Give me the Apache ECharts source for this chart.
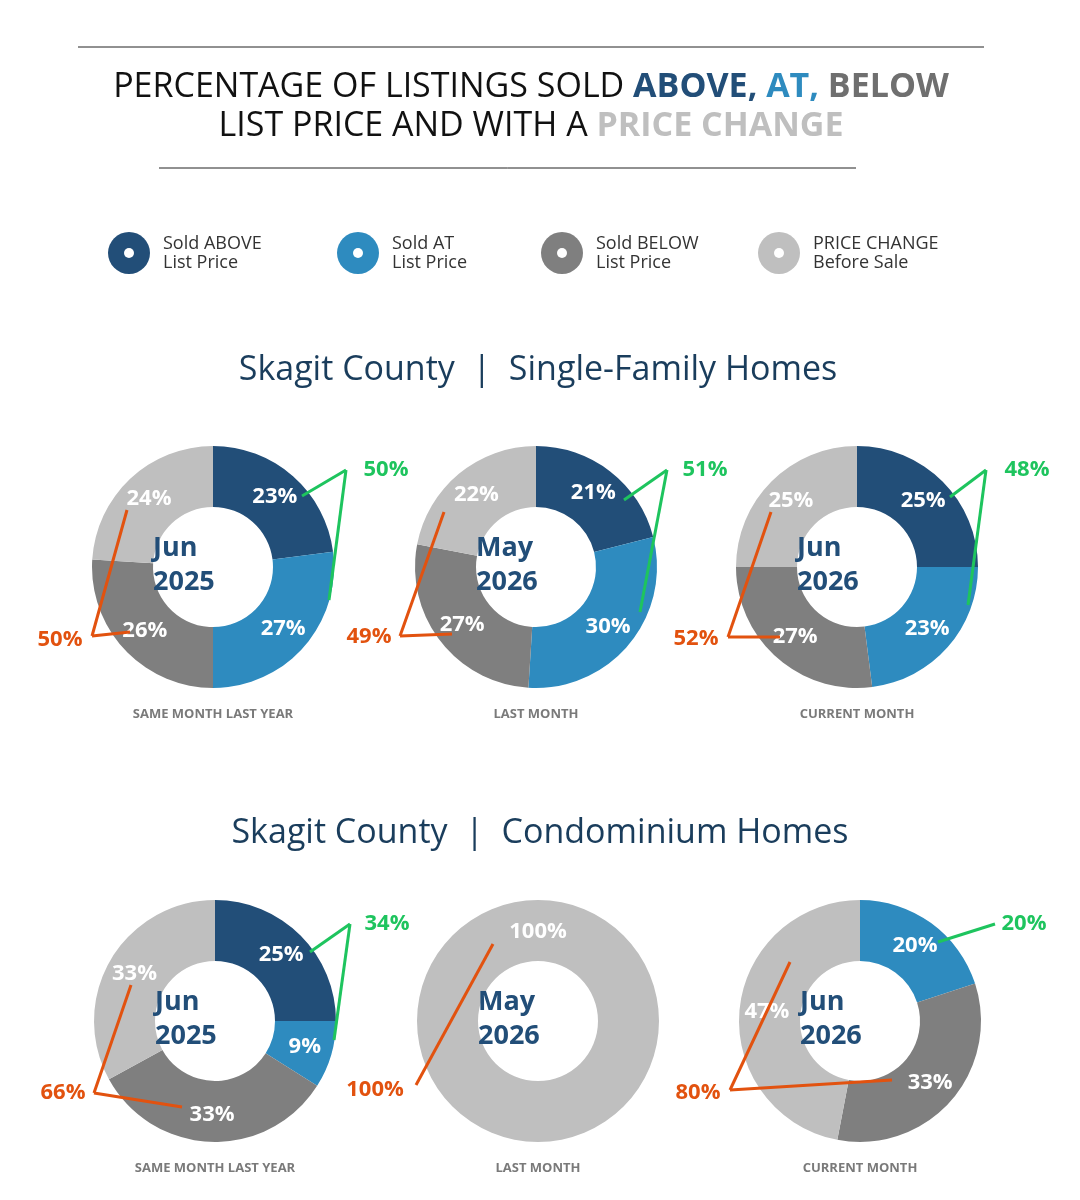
<!DOCTYPE html>
<html><head><meta charset="utf-8">
<script src="https://cdn.jsdelivr.net/npm/echarts@6/dist/echarts.min.js"></script>
<style>html,body{margin:0;background:#fff}#c{width:1080px;height:1200px}</style>
</head><body><div id="c"></div>
<script>
// order: above, at, below, price change
var categories = ['Sold ABOVE List Price', 'Sold AT List Price', 'Sold BELOW List Price', 'PRICE CHANGE Before Sale'];
var colors = ['#224e78', '#2e8bbf', '#7f7f7f', '#bfbfbf'];
var sfJun2025 = [23, 27, 26, 24];
var sfMay2026 = [21, 30, 27, 22];
var sfJun2026 = [25, 23, 27, 25];
var coJun2025 = [25, 9, 33, 33];
var coMay2026 = [0, 0, 0, 100];
var coJun2026 = [0, 20, 33, 47];
var monthLabels = ['Jun\n2025', 'May\n2026', 'Jun\n2026'];
var captions = ['SAME MONTH LAST YEAR', 'LAST MONTH', 'CURRENT MONTH'];
var greenTotals = ['50%', '51%', '48%', '34%', '', '20%'];
var orangeTotals = ['50%', '49%', '52%', '66%', '100%', '80%'];

var chart = echarts.init(document.getElementById('c'));
var font = '"Open Sans", sans-serif';
var pies = [
  {d: sfJun2025, c: [213, 567]}, {d: sfMay2026, c: [536, 567]}, {d: sfJun2026, c: [857, 567]},
  {d: coJun2025, c: [215, 1021]}, {d: coMay2026, c: [538, 1021]}, {d: coJun2026, c: [860, 1021]}
];
// callout geometry: label pos, apex, endpoints
var green = [
  {t: [386, 470], a: [346, 470], e: [[302, 496], [329, 600]]},
  {t: [705, 470], a: [667, 470], e: [[624, 500], [640, 612]]},
  {t: [1027, 470], a: [986, 470], e: [[950, 497], [968, 605]]},
  {t: [387, 924], a: [350, 924], e: [[310, 952], [334, 1040]]},
  null,
  {t: [1024, 924], a: [995, 924], e: [[938, 942]]}
];
var orange = [
  {t: [60, 640], a: [92, 636], e: [[130, 632], [127, 510]]},
  {t: [369, 637], a: [400, 636], e: [[452, 634], [444, 512]]},
  {t: [696, 639], a: [728, 637], e: [[780, 637], [771, 512]]},
  {t: [63, 1093], a: [94, 1093], e: [[182, 1107], [131, 985]]},
  {t: [375, 1090], a: [416, 1085], e: [[493, 944]]},
  {t: [698, 1093], a: [730, 1090], e: [[892, 1080], [790, 962]]}
];

var series = [];
var graphic = [];
pies.forEach(function (p, i) {
  var data = [];
  p.d.forEach(function (v, k) {
    if (v > 0) data.push({name: categories[k], value: v, itemStyle: {color: colors[k]},
      label: {show: v < 100}});
  });
  series.push({type: 'pie', center: p.c, radius: [60, 121], startAngle: 90, clockwise: true,
    silent: true, labelLine: {show: false}, data: data,
    label: {position: 'inside', formatter: '{c}%', color: '#fff', fontSize: 22, fontWeight: 'bold', fontFamily: font}});
  graphic.push({type: 'text', left: p.c[0] - 60, top: p.c[1] - 36, z: 10,
    style: {text: monthLabels[i % 3], width: 120, align: 'center', fill: '#224e78', font: 'bold 27px ' + font, lineHeight: 34}});
  graphic.push({type: 'text', x: p.c[0], y: p.c[1] + 147, z: 10,
    style: {text: captions[i % 3], align: 'center', verticalAlign: 'middle', fill: '#7a7a7a', font: 'bold 13px ' + font}});
  [[green[i], '#1ec45e', greenTotals[i]], [orange[i], '#e2520f', orangeTotals[i]]].forEach(function (g) {
    var o = g[0];
    if (!o) return;
    o.e.forEach(function (e) {
      graphic.push({type: 'line', z: 20, shape: {x1: o.a[0], y1: o.a[1], x2: e[0], y2: e[1]}, style: {stroke: g[1], lineWidth: 3}});
    });
    graphic.push({type: 'text', x: o.t[0], y: o.t[1], z: 20,
      style: {text: g[2], align: 'center', verticalAlign: 'middle', fill: g[1], font: 'bold 22px ' + font}});
  });
});
// 100% label at top for single slice
graphic.push({type: 'text', x: 538, y: 932, z: 10, style: {text: '100%', align: 'center', verticalAlign: 'middle', fill: '#fff', font: 'bold 22px ' + font}});

// header
graphic.push({type: 'line', shape: {x1: 78, y1: 47, x2: 984, y2: 47}, style: {stroke: '#222', lineWidth: 1}});
graphic.push({type: 'line', shape: {x1: 159, y1: 168, x2: 856, y2: 168}, style: {stroke: '#222', lineWidth: 1}});
graphic.push({type: 'text', x: 531, y: 107, style: {
  text: '{k|PERCENTAGE OF LISTINGS SOLD }{a|ABOVE, }{b|AT, }{c|BELOW}\n{k|LIST PRICE AND WITH A }{d|PRICE CHANGE}',
  align: 'center', verticalAlign: 'middle', lineHeight: 39,
  rich: {
    k: {fill: '#111', font: '34px ' + font, lineHeight: 39},
    a: {fill: '#224e78', font: 'bold 34px ' + font, lineHeight: 39},
    b: {fill: '#2e8bbf', font: 'bold 34px ' + font, lineHeight: 39},
    c: {fill: '#6f6f6f', font: 'bold 34px ' + font, lineHeight: 39},
    d: {fill: '#bfbfbf', font: 'bold 34px ' + font, lineHeight: 39}
  }}});
// legend
var legX = [129, 358, 562, 779];
var legT = ['Sold ABOVE\nList Price', 'Sold AT\nList Price', 'Sold BELOW\nList Price', 'PRICE CHANGE\nBefore Sale'];
legX.forEach(function (x, k) {
  graphic.push({type: 'circle', shape: {cx: x, cy: 253, r: 21}, style: {fill: colors[k]}});
  graphic.push({type: 'circle', shape: {cx: x, cy: 253, r: 5}, style: {fill: '#fff'}});
  graphic.push({type: 'text', x: x + 34, y: 253, style: {text: legT[k], verticalAlign: 'middle', fill: '#333', font: '18px ' + font, lineHeight: 19}});
});
graphic.push({type: 'text', x: 538, y: 370, style: {text: 'Skagit County  |  Single-Family Homes', align: 'center', verticalAlign: 'middle', fill: '#1a3d5c', font: '34px ' + font}});
graphic.push({type: 'text', x: 540, y: 833, style: {text: 'Skagit County  |  Condominium Homes', align: 'center', verticalAlign: 'middle', fill: '#1a3d5c', font: '34px ' + font}});

chart.setOption({animation: false, series: series, graphic: graphic});
</script></body></html>
